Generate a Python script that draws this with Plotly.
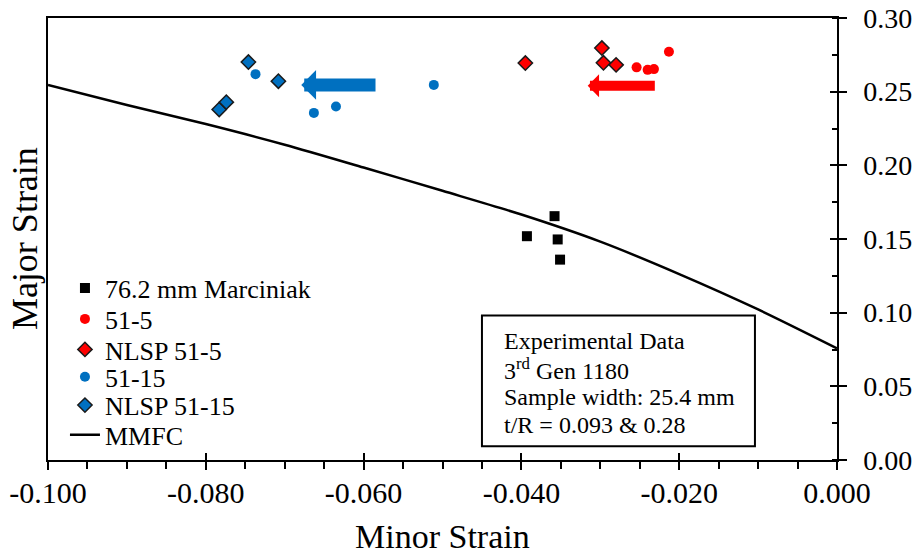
import plotly.graph_objects as go

# --- data -------------------------------------------------------------
marc_minor = [-0.0358, -0.0393, -0.0354, -0.0351]
marc_major = [0.1655, 0.1519, 0.1497, 0.1360]

r5_minor = [-0.0254, -0.0240, -0.0232, -0.0213]
r5_major = [0.2665, 0.2648, 0.2653, 0.2771]

nlsp5_minor = [-0.0395, -0.0298, -0.0296, -0.0280]
nlsp5_major = [0.2694, 0.2796, 0.2696, 0.2682]

r15_minor = [-0.0737, -0.0663, -0.0635, -0.0511]
r15_major = [0.2619, 0.2356, 0.2399, 0.2546]

nlsp15_minor = [-0.0746, -0.0708, -0.0783, -0.0774]
nlsp15_major = [0.2701, 0.2571, 0.2379, 0.2429]

mmfc_minor = [-0.100, -0.090, -0.080, -0.070, -0.060, -0.050,
              -0.040, -0.030, -0.020, -0.010, 0.000]
mmfc_major = [0.2545, 0.2410, 0.2280, 0.2140, 0.1985, 0.1827,
              0.1666, 0.1482, 0.1262, 0.1022, 0.0758]

x_ticks = [-0.100, -0.080, -0.060, -0.040, -0.020, 0.000]
x_tick_text = ["-0.100", "-0.080", "-0.060", "-0.040", "-0.020", "0.000"]
y_ticks = [0.00, 0.05, 0.10, 0.15, 0.20, 0.25, 0.30]

info_lines = [
    "Experimental Data",
    "3<sup>rd</sup> Gen 1180",
    "Sample width: 25.4 mm",
    "t/R = 0.093 &amp; 0.28",
]

FONT = "Liberation Serif"
BLUE = "#0070C0"
RED = "#FF0000"

# one legend box per entry so the rows can sit on a tight pitch
legend_rows = [0.389, 0.319, 0.250, 0.188, 0.124, 0.057]
legend_ids = ["legend", "legend2", "legend3", "legend4", "legend5", "legend6"]

fig = go.Figure()

fig.add_trace(go.Scatter(
    x=marc_minor, y=marc_major, mode="markers", name="76.2 mm Marciniak",
    marker=dict(symbol="square", size=10, color="black"),
    legend=legend_ids[0],
))
fig.add_trace(go.Scatter(
    x=r5_minor, y=r5_major, mode="markers", name="51-5",
    marker=dict(symbol="circle", size=10, color=RED),
    legend=legend_ids[1],
))
fig.add_trace(go.Scatter(
    x=nlsp5_minor, y=nlsp5_major, mode="markers", name="NLSP 51-5",
    marker=dict(symbol="diamond", size=11, color=RED,
                line=dict(color="#1a1a1a", width=1.5)),
    legend=legend_ids[2],
))
fig.add_trace(go.Scatter(
    x=r15_minor, y=r15_major, mode="markers", name="51-15",
    marker=dict(symbol="circle", size=10, color=BLUE),
    legend=legend_ids[3],
))
fig.add_trace(go.Scatter(
    x=nlsp15_minor, y=nlsp15_major, mode="markers", name="NLSP 51-15",
    marker=dict(symbol="diamond", size=11, color=BLUE,
                line=dict(color="#1a1a1a", width=1.5)),
    legend=legend_ids[4],
))
fig.add_trace(go.Scatter(
    x=mmfc_minor, y=mmfc_major, mode="lines", name="MMFC",
    line=dict(color="black", width=2.5, shape="spline", smoothing=0.8),
    legend=legend_ids[5],
))

# helper trace so the overlay axes (used for crossing ticks) are drawn
fig.add_trace(go.Scatter(x=[], y=[], xaxis="x2", yaxis="y2",
                         showlegend=False, hoverinfo="skip"))

x_range = [-0.100, 0.000]
y_range = [0.00, 0.30]

legend_style = dict(
    x=0.0215, xanchor="left", yanchor="middle",
    bgcolor="rgba(0,0,0,0)", borderwidth=0,
    font=dict(family=FONT, size=26, color="black"),
)
legends = {lid: dict(legend_style, y=yy) for lid, yy in zip(legend_ids, legend_rows)}

fig.update_layout(
    width=922, height=556,
    margin=dict(l=48, r=85, t=18, b=96, autoexpand=False),
    paper_bgcolor="white", plot_bgcolor="white",
    font=dict(family=FONT, color="black"),
    showlegend=True,
    **legends,
    xaxis=dict(
        range=x_range, tickvals=x_ticks, ticktext=x_tick_text,
        ticks="outside", ticklen=8, tickwidth=1.5, tickcolor="black",
        minor=dict(dtick=0.005, ticks="outside", ticklen=7, tickwidth=1.5,
                   tickcolor="black", showgrid=False),
        showline=True, linecolor="black", linewidth=1.5, mirror=True,
        showgrid=False, zeroline=False,
        tickfont=dict(family=FONT, size=30, color="black"),
        ticklabelstandoff=-3, automargin=False,
    ),
    yaxis=dict(
        range=y_range, tickvals=y_ticks, tickformat=".2f", side="right",
        ticks="outside", ticklen=8, tickwidth=1.5, tickcolor="black",
        minor=dict(dtick=0.025, ticks="inside", ticklen=5, tickwidth=1.5,
                   tickcolor="black", showgrid=False),
        showline=True, linecolor="black", linewidth=1.5, mirror=True,
        showgrid=False, zeroline=False,
        tickfont=dict(family=FONT, size=28, color="black"),
        ticklabelstandoff=11, automargin=False,
    ),
    xaxis2=dict(
        range=x_range, tickvals=x_ticks, overlaying="x", anchor="y2",
        side="bottom", ticks="inside", ticklen=7, tickwidth=1.5,
        tickcolor="black", showticklabels=False, showline=False,
        showgrid=False, zeroline=False, automargin=False,
    ),
    yaxis2=dict(
        range=y_range, tickvals=y_ticks, overlaying="y", anchor="x2",
        side="right", ticks="inside", ticklen=7, tickwidth=1.5,
        tickcolor="black", showticklabels=False, showline=False,
        showgrid=False, zeroline=False, automargin=False,
    ),
)

# axis titles
fig.add_annotation(
    text="Minor Strain", xref="paper", yref="paper", x=0.5, y=-0.172,
    xanchor="center", yanchor="middle", showarrow=False,
    font=dict(family=FONT, size=34, color="black"),
)
fig.add_annotation(
    text="Major Strain", xref="paper", yref="paper", x=-0.029, y=0.50,
    xanchor="center", yanchor="middle", textangle=-90, showarrow=False,
    font=dict(family=FONT, size=36, color="black"),
)

# direction arrows
arrow_specs = [
    dict(tip=(-0.0679, 0.2546), tail=(-0.0583, 0.2546), color=BLUE, width=13),
    dict(tip=(-0.0316, 0.2540), tail=(-0.0229, 0.2540), color=RED, width=10),
]
for a in arrow_specs:
    fig.add_annotation(
        x=a["tip"][0], y=a["tip"][1], ax=a["tail"][0], ay=a["tail"][1],
        xref="x", yref="y", axref="x", ayref="y", text="",
        showarrow=True, arrowhead=1, arrowsize=0.38,
        arrowwidth=a["width"], arrowcolor=a["color"], standoff=0,
    )

# info box
fig.add_shape(
    type="rect", xref="paper", yref="paper",
    x0=0.550, x1=0.896, y0=0.031, y1=0.327,
    line=dict(color="black", width=2), fillcolor="white", layer="below",
)
line_y = [0.27, 0.205, 0.142, 0.08]
for txt, yy in zip(info_lines, line_y):
    fig.add_annotation(
        text=txt, xref="paper", yref="paper", x=0.575, y=yy,
        xanchor="left", yanchor="middle", showarrow=False, align="left",
        font=dict(family=FONT, size=24, color="black"),
    )

fig.write_html("out.html")
